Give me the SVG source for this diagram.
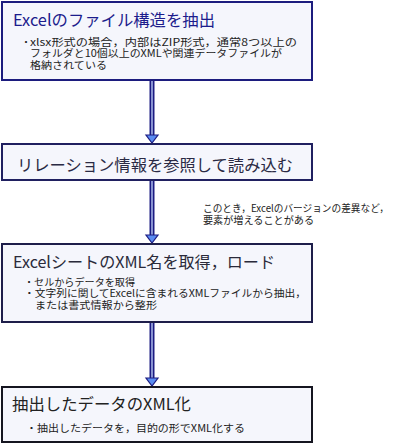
<svg xmlns="http://www.w3.org/2000/svg" width="400" height="444" viewBox="0 0 400 444">
<style>
text{font-family:"Noto Sans CJK JP","Noto Sans",sans-serif;fill:#222}
.box{fill:#f5f6fc;stroke-width:2}
.t{font-size:16px}
.s{font-size:10px}
.shaft{stroke:#1c1c82;stroke-width:5}
.core{stroke:#b8c6f2;stroke-width:1.4}
.head{fill:#5a8cf2;stroke:#1c1c82;stroke-width:1.2;stroke-linejoin:miter}
</style>
<rect width="400" height="444" fill="#fff"/>
<g id="connectors">
  <line class="shaft" x1="152" y1="80" x2="152" y2="136"/>
  <line class="core" x1="152" y1="80" x2="152" y2="136"/>
  <polygon class="head" points="146,135 158,135 152,143"/>
  <line class="shaft" x1="152" y1="180" x2="152" y2="236"/>
  <line class="core" x1="152" y1="180" x2="152" y2="236"/>
  <polygon class="head" points="146,235 158,235 152,243"/>
  <line class="shaft" x1="152" y1="322" x2="152" y2="379"/>
  <line class="core" x1="152" y1="322" x2="152" y2="379"/>
  <polygon class="head" points="146,378 158,378 152,386"/>
</g>
<g id="note">
  <text class="s" lengthAdjust="spacingAndGlyphs"><tspan x="203" y="212" textLength="186" lengthAdjust="spacingAndGlyphs">このとき，Excelのバージョンの差異など，</tspan><tspan x="203" y="224" textLength="111" lengthAdjust="spacingAndGlyphs">要素が増えることがある</tspan></text>
</g>
<g id="node1">
  <rect class="box" x="2" y="2" width="310" height="78" stroke="#1c1c7e"/>
  <text class="t" x="13" y="26" style="fill:#1c1c8c" textLength="202" lengthAdjust="spacingAndGlyphs">Excelのファイル構造を抽出</text>
  <text class="s"><tspan x="21" y="45.5">・</tspan><tspan x="30" y="45.5" textLength="267" lengthAdjust="spacingAndGlyphs">xlsx形式の場合，内部はZIP形式，通常8つ以上の</tspan><tspan x="30" y="57" textLength="252" lengthAdjust="spacingAndGlyphs">フォルダと10個以上のXMLや関連データファイルが</tspan><tspan x="30" y="68.5" textLength="77" lengthAdjust="spacingAndGlyphs">格納されている</tspan></text>
</g>
<g id="node2">
  <rect class="box" x="2" y="144" width="310" height="36" stroke="#202060"/>
  <text class="t" x="17" y="171" style="fill:#2a2a44" textLength="276" lengthAdjust="spacingAndGlyphs">リレーション情報を参照して読み込む</text>
</g>
<g id="node3">
  <rect class="box" x="2" y="244" width="310" height="78" stroke="#1e1e4a"/>
  <text class="t" x="13" y="268" style="fill:#2a2a3a" textLength="262" lengthAdjust="spacingAndGlyphs">ExcelシートのXML名を取得，ロード</text>
  <text class="s"><tspan x="24" y="285.5" textLength="111" lengthAdjust="spacingAndGlyphs">・セルからデータを取得</tspan><tspan x="24" y="297" textLength="282" lengthAdjust="spacingAndGlyphs">・文字列に関してExcelに含まれるXMLファイルから抽出，</tspan><tspan x="35" y="308.5" textLength="122" lengthAdjust="spacingAndGlyphs">または書式情報から整形</tspan></text>
</g>
<g id="node4">
  <rect class="box" x="2" y="387" width="310" height="55" stroke="#151520"/>
  <text class="t" x="12" y="410" style="fill:#222" textLength="179" lengthAdjust="spacingAndGlyphs">抽出したデータのXML化</text>
  <text class="s" x="26" y="432" textLength="219" lengthAdjust="spacingAndGlyphs">・抽出したデータを，目的の形でXML化する</text>
</g>
</svg>
